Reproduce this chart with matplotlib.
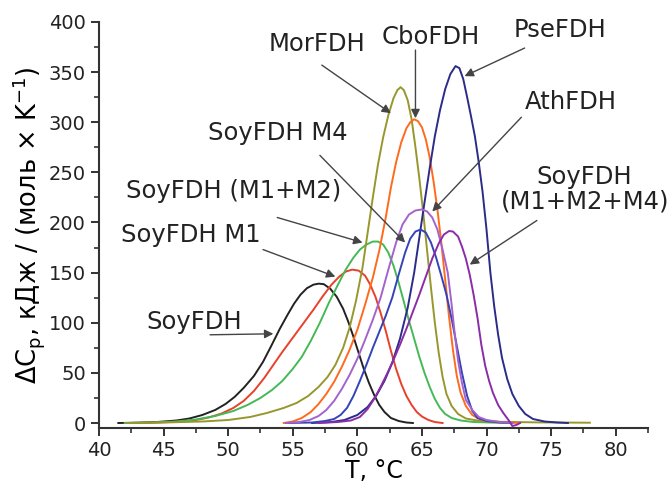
import matplotlib.pyplot as plt
from matplotlib.ticker import MultipleLocator

plt.rcParams['font.family'] = ['DejaVu Sans']

# T (deg C) and dCp values
soy_t = [41.5, 43, 44.5, 46, 47, 48, 49, 49.8, 50.5, 51.2, 52, 52.7, 53.3, 54, 54.6, 55.1, 55.6, 56.1, 56.6, 57.0, 57.4, 57.9, 58.4, 58.9, 59.3, 59.7, 60.1, 60.5, 60.9, 61.3, 61.7, 62.1, 62.6, 63.2, 63.8, 64.3]
soy_cp = [0, 0.3, 1, 2.5, 4.5, 8, 13, 19, 26, 35, 47, 61, 76, 94, 108, 119, 128, 134.5, 138, 139, 138.5, 134, 126, 114, 101, 86, 70, 54, 40, 28, 18, 11, 5, 2, 0.5, 0]

m1_t = [42, 44, 46, 47.5, 48.5, 49.5, 50.4, 51.2, 52, 52.8, 53.5, 54.2, 55, 55.8, 56.6, 57.3, 58, 58.6, 59.1, 59.6, 60.1, 60.6, 61.0, 61.4, 61.8, 62.2, 62.6, 63.0, 63.4, 63.8, 64.2, 64.6, 65.0, 65.5, 66.0, 66.6]
m1_cp = [0, 0.3, 1.2, 3, 5.5, 9.5, 15, 22, 32, 45, 58, 71, 85, 99, 113, 126, 138, 146, 151, 153, 152, 147, 138, 126, 110, 92, 72, 54, 39, 27, 18, 11, 6.5, 3, 1, 0]

m12_t = [42, 44, 46, 47.5, 49, 50.4, 51.5, 52.5, 53.4, 54.2, 55, 55.7, 56.4, 57.1, 57.8, 58.5, 59.1, 59.7, 60.2, 60.7, 61.2, 61.6, 62.0, 62.4, 62.8, 63.2, 63.6, 64.0, 64.4, 64.8, 65.2, 65.6, 66.0, 66.4, 66.8, 67.3, 68, 69, 70.5, 72]
m12_cp = [0, 0.5, 1.5, 3.5, 7, 12, 18, 25, 33, 42, 54, 66, 82, 100, 120, 138, 153, 165, 173, 178, 181, 181, 178, 170, 157, 140, 121, 102, 84, 66, 50, 36, 24, 15, 9, 5, 2.5, 1, 0.4, 0]

mor_t = [42.2, 45, 48, 50, 51.7, 53, 54.3, 55.3, 56.2, 57, 57.7, 58.3, 58.9, 59.4, 59.9, 60.4, 60.8, 61.2, 61.6, 62.0, 62.4, 62.8, 63.1, 63.35, 63.6, 63.9, 64.2, 64.5, 64.8, 65.1, 65.4, 65.7, 66.0, 66.3, 66.6, 66.9, 67.3, 67.8, 68.4, 69.5, 71, 74, 78]
mor_cp = [0, 0.5, 1.5, 3, 6, 10, 15, 20, 27, 36, 46, 58, 75, 95, 122, 155, 190, 225, 258, 285, 307, 324, 332, 335, 332, 322, 303, 275, 244, 210, 172, 135, 100, 70, 46, 29, 17, 9, 4.5, 2, 1.2, 0.6, 0.3]

cbo_t = [54.3, 55, 55.7, 56.4, 57, 57.6, 58.2, 58.8, 59.4, 60, 60.6, 61.2, 61.7, 62.2, 62.6, 63.0, 63.4, 63.8, 64.1, 64.4, 64.7, 65.0, 65.3, 65.6, 65.9, 66.2, 66.5, 66.8, 67.1, 67.4, 67.7, 68.0, 68.4, 68.9, 69.5, 70.5, 72.5]
cbo_cp = [0, 1.5, 5, 11, 19, 29, 41, 56, 73, 93, 118, 145, 172, 205, 235, 260, 280, 294, 300, 303, 301, 295, 283, 265, 241, 213, 180, 143, 106, 73, 47, 30, 17, 8, 3.5, 1.5, 0]

pse_t = [56.5, 58, 59, 60, 60.8, 61.5, 62.1, 62.7, 63.3, 63.9, 64.4, 64.8, 65.2, 65.6, 66.0, 66.4, 66.8, 67.2, 67.6, 67.9, 68.2, 68.5, 68.8, 69.1, 69.4, 69.7, 70.0, 70.3, 70.6, 70.9, 71.2, 71.6, 72.0, 72.5, 73.0, 73.6, 74.5, 75.5, 76.3]
pse_cp = [0, 1, 3, 8, 16, 28, 42, 60, 84, 115, 150, 185, 220, 254, 286, 312, 333, 348, 356, 354, 343, 325, 306, 286, 260, 230, 193, 150, 116, 88, 65, 44, 29, 17, 9, 4, 1.5, 0.5, 0]

m4_t = [54.5, 56.5, 57.5, 58.2, 58.7, 59.2, 59.7, 60.2, 60.7, 61.2, 61.7, 62.2, 62.7, 63.2, 63.7, 64.1, 64.5, 64.9, 65.3, 65.7, 66.1, 66.5, 66.9, 67.3, 67.7, 68.1, 68.5, 68.9, 69.3, 70, 71, 72]
m4_cp = [0, 0.5, 2, 4, 8, 15, 27, 42, 58, 75, 91, 107, 125, 148, 170, 184, 191, 193, 190, 180, 165, 147, 128, 104, 77, 50, 27, 12, 5, 2, 0.5, 0]

ath_t = [54.5, 55.5, 56.3, 57, 57.6, 58.2, 58.8, 59.4, 60.0, 60.6, 61.2, 61.8, 62.4, 63.0, 63.5, 64.0, 64.5, 65.0, 65.4, 65.8, 66.2, 66.6, 67.0, 67.3, 67.55, 67.8, 68.1, 68.4, 68.9, 69.4, 70, 71, 72]
ath_cp = [0, 1, 3, 7, 13, 22, 34, 48, 64, 83, 103, 125, 153, 180, 198, 208, 212, 213, 211, 205, 193, 173, 150, 118, 88, 62, 40, 23, 13, 6, 3, 1, 0]

m124_t = [57, 58.5, 59.5, 60.2, 60.8, 61.3, 61.8, 62.3, 62.8, 63.3, 63.8, 64.3, 64.8, 65.3, 65.8, 66.3, 66.7, 67.1, 67.4, 67.8, 68.1, 68.4, 68.7, 69.0, 69.3, 69.6, 69.9, 70.2, 70.5, 70.9, 71.3, 71.7, 72.0, 72.3, 72.6]
m124_cp = [0, 1, 2.5, 6, 14, 24, 36, 49, 63, 78, 94, 111, 128, 146, 164, 179, 188, 191.5, 191, 186, 176, 164, 148, 128, 105, 78, 57, 42, 30, 18, 10, 3, -3, -2, 0]

curves = [
    (soy_t, soy_cp, '#222222'),
    (m1_t, m1_cp, '#e8412a'),
    (m12_t, m12_cp, '#45b955'),
    (mor_t, mor_cp, '#97972e'),
    (cbo_t, cbo_cp, '#ff6a1c'),
    (pse_t, pse_cp, '#2b2b8a'),
    (m4_t, m4_cp, '#3444b8'),
    (ath_t, ath_cp, '#a463cc'),
    (m124_t, m124_cp, '#8b2ca8'),
]

# label text, text centre, arrow start, arrow tip
labels = [
    ('SoyFDH', (47.4, 101), (48.6, 88), (53.5, 89)),
    ('SoyFDH M1', (47.1, 188), (52.7, 173), (58.3, 146)),
    ('SoyFDH (M1+M2)', (50.4, 231), (53.8, 205), (60.4, 180)),
    ('SoyFDH M4', (53.85, 289), (57.1, 267), (63.7, 180)),
    ('MorFDH', (56.9, 378), (57.25, 357), (62.6, 309)),
    ('CboFDH', (65.7, 385), (64.5, 372), (64.5, 304)),
    ('PseFDH', (75.7, 392), (72.95, 374), (68.3, 346)),
    ('AthFDH', (76.5, 320), (72.7, 305), (65.8, 211)),
    ('SoyFDH\n(M1+M2+M4)', (77.6, 233), (73.9, 202), (68.7, 158)),
]

fig = plt.figure(figsize=(6.71, 4.93), dpi=100)
ax = fig.add_axes([0.1475, 0.1318, 0.8182, 0.8236])

for t, cp, c in curves:
    ax.plot(t, cp, color=c, lw=1.4, solid_joinstyle='round')

for txt, pos, start, tip in labels:
    ax.text(pos[0], pos[1], txt, fontsize=17.5, ha='center', va='center',
            color='#222222', linespacing=1.0)
    ax.annotate('', xy=tip, xytext=start,
                arrowprops=dict(arrowstyle='-|>', color='#444444', lw=1.0,
                                mutation_scale=13, shrinkA=0, shrinkB=0))

ax.set_xlim(40, 82.5)
ax.set_ylim(-5, 400)
ax.xaxis.set_major_locator(MultipleLocator(5))
ax.xaxis.set_minor_locator(MultipleLocator(2.5))
ax.yaxis.set_major_locator(MultipleLocator(50))
ax.yaxis.set_minor_locator(MultipleLocator(25))
for s in ['top', 'right']:
    ax.spines[s].set_visible(False)
for s in ['left', 'bottom']:
    ax.spines[s].set_linewidth(1.5)
    ax.spines[s].set_color('#333333')
ax.tick_params(which='major', length=6, width=1.4, labelsize=14, colors='#333333', labelcolor='#222222')
ax.tick_params(which='minor', length=3.5, width=1.2, colors='#333333')

ax.set_xlabel('T, °C', fontsize=17, labelpad=-1)
ax.set_ylabel(r'$\Delta$C$_\mathregular{p}$, кДж / (моль × K$^\mathregular{-1}$)', fontsize=18.5, labelpad=1)

fig.savefig('out.png', dpi=100)
